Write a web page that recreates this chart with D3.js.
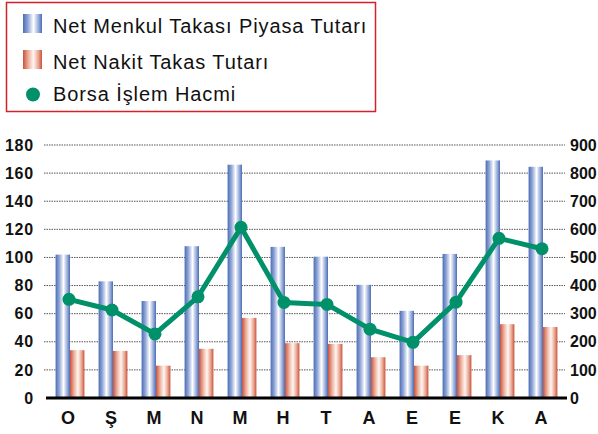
<!DOCTYPE html>
<html>
<head>
<meta charset="utf-8">
<script src="https://cdn.jsdelivr.net/npm/d3@7"></script>
<style>
  body { margin: 0; background: #fff; }
  svg { display: block; }
  .tick-label { font-family: "Liberation Sans", Arial, sans-serif; font-weight: bold; font-size: 16px; letter-spacing: 0.8px; fill: #111; }
  .tick-right { letter-spacing: 0; }
  .month-label { font-family: "Liberation Sans", Arial, sans-serif; font-weight: bold; font-size: 18px; fill: #111; }
  .legend-text { font-family: "Liberation Sans", Arial, sans-serif; font-size: 20px; letter-spacing: 0.9px; fill: #111; }
</style>
</head>
<body>
<div id="container"></div>
<script>
// Data
var months = ["O", "Ş", "M", "N", "M", "H", "T", "A", "E", "E", "K", "A"];
var menkul = [102, 83, 69, 108, 166, 107.5, 100.5, 80.5, 62, 102.5, 169, 164.5];
var nakit = [34, 33.5, 23, 35, 57, 39, 38.5, 29, 23, 30.5, 52.5, 50.5];
var hacim = [351, 313, 228, 360, 607, 340, 333, 245, 198, 341, 568, 531];
var leftTicks = [0, 20, 40, 60, 80, 100, 120, 140, 160, 180];
var rightTicks = [0, 100, 200, 300, 400, 500, 600, 700, 800, 900];
var legendLabels = ["Net Menkul Takası Piyasa Tutarı", "Net Nakit Takas Tutarı", "Borsa İşlem Hacmi"];

var width = 598, height = 434;
var green = "#00916a";

var svg = d3.select("#container").append("svg")
    .attr("width", width)
    .attr("height", height);

// gradients for the bars
var defs = svg.append("defs");
function addGradient(id, stops) {
    var g = defs.append("linearGradient").attr("id", id)
        .attr("x1", "0%").attr("x2", "100%").attr("y1", "0%").attr("y2", "0%");
    stops.forEach(function(s) {
        g.append("stop").attr("offset", s[0]).attr("stop-color", s[1]);
    });
}
addGradient("blueGrad", [["0%", "#4a6db6"], ["25%", "#8ea4d6"], ["55%", "#ffffff"], ["80%", "#9cb0dc"], ["100%", "#4b6db5"]]);
addGradient("redGrad", [["0%", "#c9533b"], ["30%", "#eeb5a3"], ["55%", "#fff6f2"], ["80%", "#eaa894"], ["100%", "#c9553d"]]);

// scales
var x = d3.scaleBand()
    .domain(d3.range(months.length))
    .range([48.5, 564.5])
    .paddingInner(0.33)
    .paddingOuter(0.165);

var yL = d3.scaleLinear().domain([0, 180]).range([398, 145]);
var yR = d3.scaleLinear().domain([0, 900]).range([398, 145]);

// gridlines
svg.append("g").selectAll("line")
    .data(leftTicks.filter(function(d) { return d > 0; }))
    .enter().append("line")
    .attr("x1", 44).attr("x2", 565)
    .attr("y1", function(d) { return yL(d); })
    .attr("y2", function(d) { return yL(d); })
    .attr("stroke", "#555")
    .attr("stroke-width", 1)
    .attr("stroke-dasharray", "1.5,1");

// left axis labels
var leftAxis = d3.axisLeft(yL).tickValues(leftTicks).tickSize(0).tickPadding(0);
var gl = svg.append("g").attr("transform", "translate(34,0)").call(leftAxis);
gl.select(".domain").remove();
gl.selectAll("text").attr("class", "tick-label").attr("fill", null).attr("font-size", null).attr("font-family", null);

// right axis labels
var rightAxis = d3.axisRight(yR).tickValues(rightTicks).tickSize(0).tickPadding(0);
var gr = svg.append("g").attr("transform", "translate(570,0)").call(rightAxis);
gr.select(".domain").remove();
gr.selectAll("text").attr("class", "tick-label tick-right").attr("fill", null).attr("font-size", null).attr("font-family", null);

// bars
var half = x.bandwidth() / 2;
svg.append("g").selectAll("rect")
    .data(menkul)
    .enter().append("rect")
    .attr("x", function(d, i) { return x(i); })
    .attr("y", function(d) { return yL(d); })
    .attr("width", half)
    .attr("height", function(d) { return yL(0) - yL(d); })
    .attr("fill", "url(#blueGrad)");

svg.append("g").selectAll("rect")
    .data(nakit)
    .enter().append("rect")
    .attr("x", function(d, i) { return x(i) + half; })
    .attr("y", function(d) { return yL(d); })
    .attr("width", half)
    .attr("height", function(d) { return yL(0) - yL(d); })
    .attr("fill", "url(#redGrad)");

// baseline
svg.append("line")
    .attr("x1", 46).attr("x2", 567)
    .attr("y1", yL(0)).attr("y2", yL(0))
    .attr("stroke", "#000").attr("stroke-width", 3);

// month labels
svg.append("g").selectAll("text")
    .data(months)
    .enter().append("text")
    .attr("class", "month-label")
    .attr("x", function(d, i) { return x(i) + half - 2; })
    .attr("y", 424)
    .attr("text-anchor", "middle")
    .text(function(d) { return d; });

// line for trading volume
var line = d3.line()
    .x(function(d, i) { return x(i) + half - 1; })
    .y(function(d) { return yR(d); });

svg.append("path")
    .datum(hacim)
    .attr("d", line)
    .attr("fill", "none")
    .attr("stroke", green)
    .attr("stroke-width", 5)
    .attr("stroke-linejoin", "round");

svg.append("g").selectAll("circle")
    .data(hacim)
    .enter().append("circle")
    .attr("cx", function(d, i) { return x(i) + half - 1; })
    .attr("cy", function(d) { return yR(d); })
    .attr("r", 6.5)
    .attr("fill", green);

// legend
svg.append("rect")
    .attr("x", 6.5).attr("y", 2.5)
    .attr("width", 369).attr("height", 109)
    .attr("fill", "none")
    .attr("stroke", "#d4202a")
    .attr("stroke-width", 1.5);

var legendBase = [33, 68.5, 100.5];
var leg = svg.append("g");
leg.append("rect").attr("x", 23).attr("y", 14).attr("width", 19).attr("height", 19).attr("fill", "url(#blueGrad)");
leg.append("rect").attr("x", 23).attr("y", 50).attr("width", 19).attr("height", 19).attr("fill", "url(#redGrad)");
leg.append("circle").attr("cx", 33).attr("cy", 94.5).attr("r", 7).attr("fill", green);

leg.selectAll("text.legend-text")
    .data(legendLabels)
    .enter().append("text")
    .attr("class", "legend-text")
    .attr("x", 53)
    .attr("y", function(d, i) { return legendBase[i]; })
    .text(function(d) { return d; });
</script>
</body>
</html>
